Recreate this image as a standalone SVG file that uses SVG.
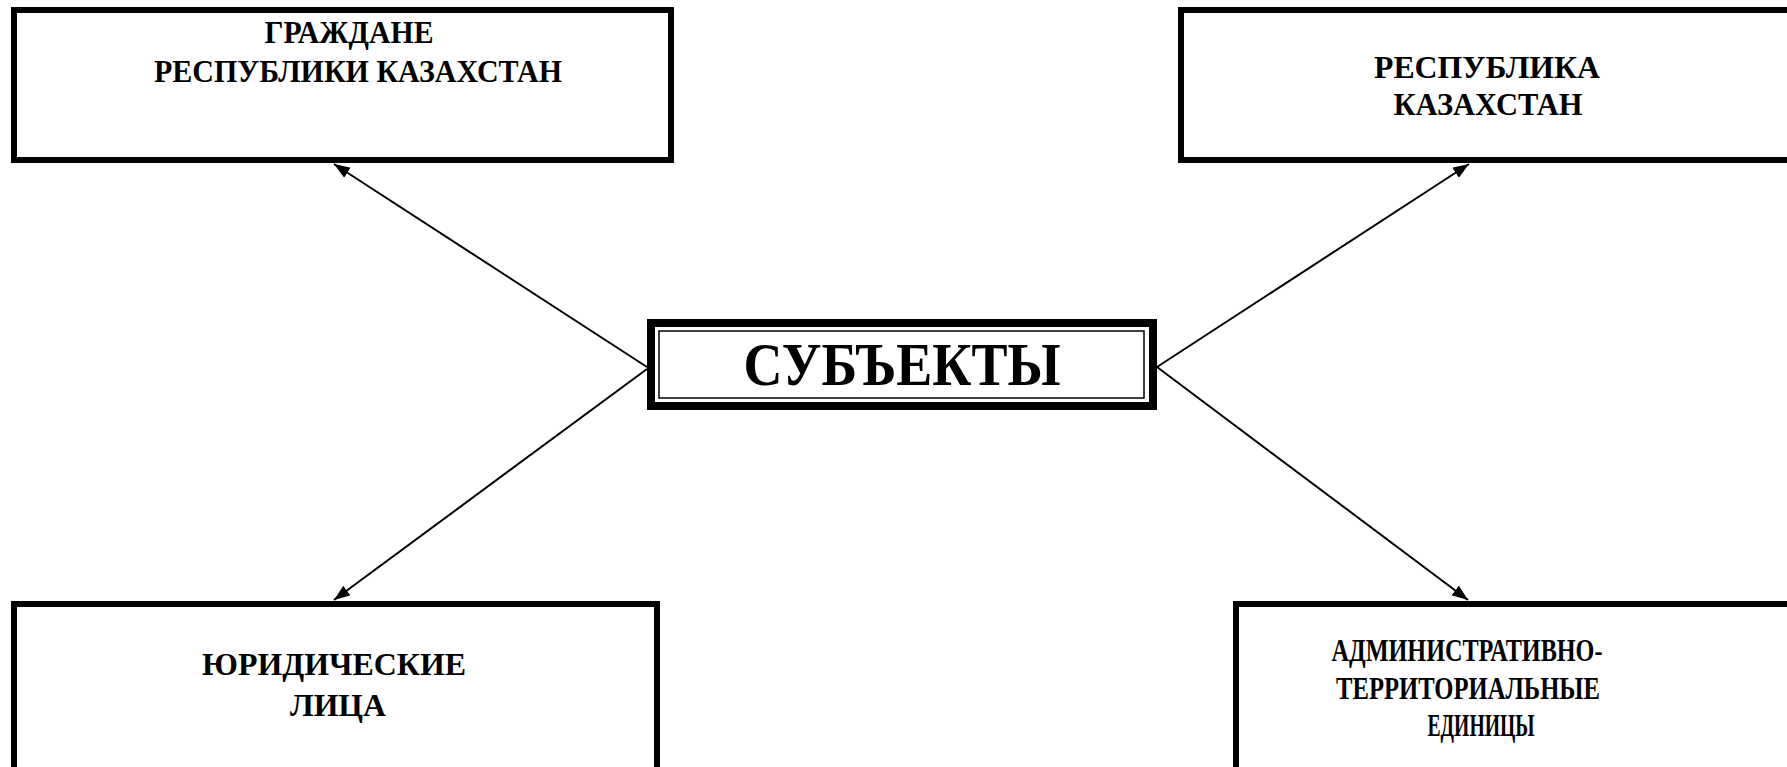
<svg xmlns="http://www.w3.org/2000/svg" width="1787" height="767" viewBox="0 0 1787 767">
<defs>
<style>
.box{fill:#fff;stroke:#000;stroke-width:6}
.t{font-family:"Liberation Serif","Times New Roman",serif;font-weight:bold;fill:#000;text-anchor:middle}
.s{font-size:31px}
.big{font-size:62px}
.conn{stroke:#000;stroke-width:2;fill:none;marker-end:url(#ah)}
</style>
<marker id="ah" markerUnits="userSpaceOnUse" markerWidth="18" markerHeight="14" refX="16" refY="6" orient="auto">
<path d="M0,0 L16,6 L0,12 z" fill="#000"/>
</marker>
</defs>
<rect width="1787" height="767" fill="#fff"/>
<g id="connectors">
<line class="conn" x1="647" y1="367" x2="334" y2="164"/>
<line class="conn" x1="647" y1="369" x2="334" y2="600"/>
<line class="conn" x1="1157" y1="367" x2="1469" y2="164"/>
<line class="conn" x1="1157" y1="367" x2="1468" y2="600"/>
</g>
<g id="center">
<rect x="651" y="323" width="502" height="83" fill="#fff" stroke="#000" stroke-width="8"/>
<rect x="659" y="331" width="485" height="67" fill="none" stroke="#000" stroke-width="1.5"/>
<text class="t big" x="902" y="385" textLength="317" lengthAdjust="spacingAndGlyphs">СУБЪЕКТЫ</text>
</g>
<g id="citizens">
<rect class="box" x="14" y="10" width="657" height="150"/>
<text class="t s" x="349" y="43" textLength="169" lengthAdjust="spacingAndGlyphs">ГРАЖДАНЕ</text>
<text class="t s" x="358" y="82" textLength="408" lengthAdjust="spacingAndGlyphs">РЕСПУБЛИКИ КАЗАХСТАН</text>
</g>
<g id="republic">
<rect class="box" x="1181" y="10" width="612" height="150"/>
<text class="t s" x="1487" y="78" textLength="226" lengthAdjust="spacingAndGlyphs">РЕСПУБЛИКА</text>
<text class="t s" x="1488" y="115" textLength="189" lengthAdjust="spacingAndGlyphs">КАЗАХСТАН</text>
</g>
<g id="legal">
<rect class="box" x="14" y="604" width="643" height="170"/>
<text class="t s" x="334" y="675" textLength="264" lengthAdjust="spacingAndGlyphs">ЮРИДИЧЕСКИЕ</text>
<text class="t s" x="338" y="716" textLength="96" lengthAdjust="spacingAndGlyphs">ЛИЦА</text>
</g>
<g id="admin">
<rect class="box" x="1236" y="604" width="560" height="170"/>
<text class="t s" x="1467" y="661" textLength="271" lengthAdjust="spacingAndGlyphs">АДМИНИСТРАТИВНО-</text>
<text class="t s" x="1468" y="699" textLength="264" lengthAdjust="spacingAndGlyphs">ТЕРРИТОРИАЛЬНЫЕ</text>
<text class="t s" x="1481" y="736" textLength="107" lengthAdjust="spacingAndGlyphs">ЕДИНИЦЫ</text>
</g>
</svg>
